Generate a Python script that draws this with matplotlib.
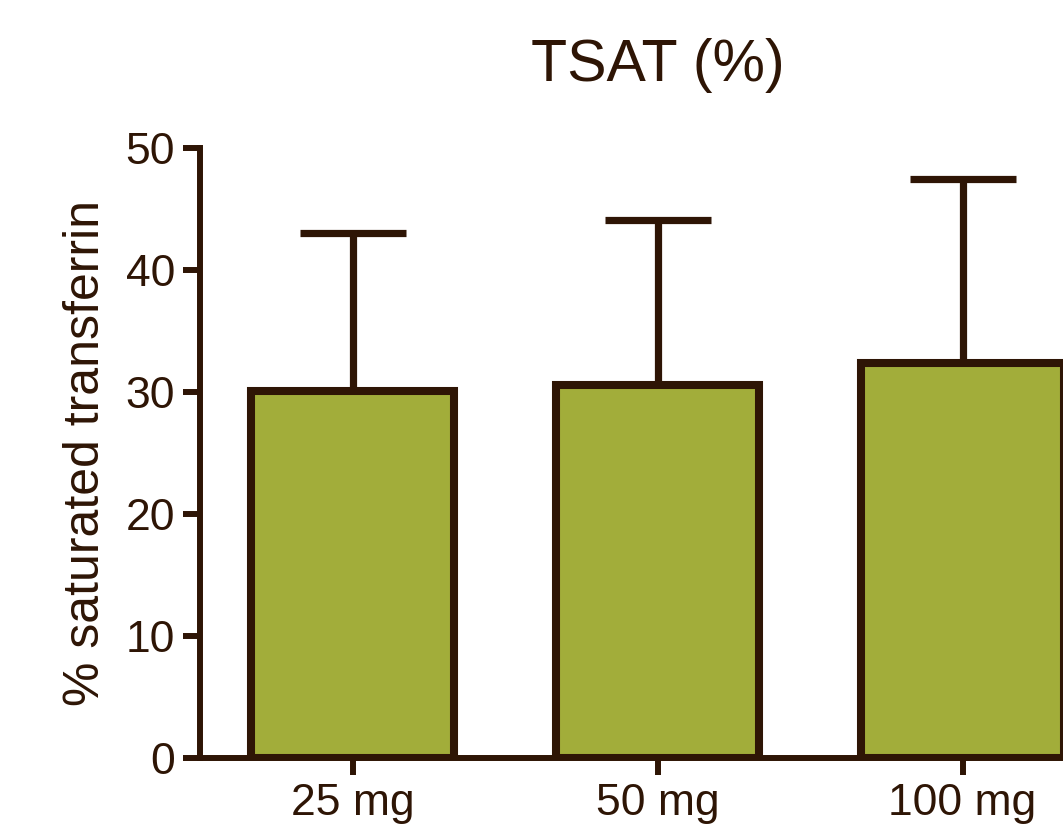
import matplotlib.pyplot as plt

plt.rcParams["font.family"] = ["Liberation Sans", "DejaVu Sans"]

categories = ["25 mg", "50 mg", "100 mg"]
means = [30.1, 30.6, 32.4]
upper_err = [12.9, 13.5, 15.1]

INK = "#2e1505"
GREEN = "#a2ad3a"

fig = plt.figure(figsize=(10.63, 8.27), dpi=100)
ax = fig.add_axes([200 / 1063, 69 / 827, 915 / 1063, 610 / 827])

x = list(range(len(categories)))
ax.errorbar(x, means, yerr=[[0] * len(means), upper_err], fmt="none",
            ecolor=INK, elinewidth=5.2, capsize=38, capthick=5.2, zorder=1)
ax.bar(x, means, width=0.665, color=GREEN, edgecolor=INK, linewidth=5.8,
       zorder=2)

ax.set_xlim(-0.5, 2.5)
ax.set_ylim(0, 50)
ax.set_yticks([0, 10, 20, 30, 40, 50])
ax.set_xticks(x)
ax.set_xticklabels(categories)

for side in ["top", "right"]:
    ax.spines[side].set_visible(False)
for side in ["left", "bottom"]:
    ax.spines[side].set_linewidth(4.3)
    ax.spines[side].set_color(INK)
    ax.spines[side].set_zorder(3)

ax.tick_params(axis="both", colors=INK, labelsize=32, width=4.3, length=12,
               pad=6)
ax.set_ylabel("% saturated transferrin", fontsize=36, color=INK, labelpad=12)
ax.set_title("TSAT (%)", fontsize=42.5, color=INK, pad=48)

fig.savefig("out.png", dpi=100)
